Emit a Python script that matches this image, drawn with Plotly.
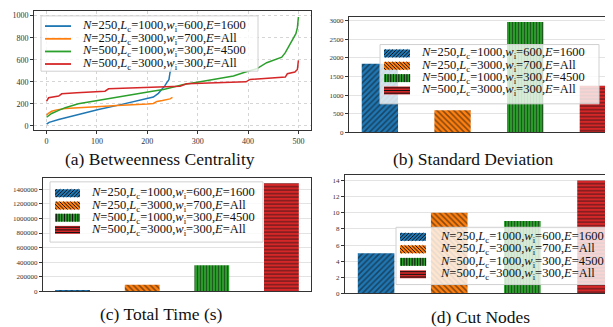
import plotly.graph_objects as go

W, H = 613, 327

# ---------------- data ----------------
series_labels = [
    "<i>N</i>=250,<i>L</i><sub>c</sub>=1000,<i>w</i><sub>i</sub>=600,<i>E</i>=1600",
    "<i>N</i>=250,<i>L</i><sub>c</sub>=3000,<i>w</i><sub>i</sub>=700,<i>E</i>=All",
    "<i>N</i>=500,<i>L</i><sub>c</sub>=1000,<i>w</i><sub>i</sub>=300,<i>E</i>=4500",
    "<i>N</i>=500,<i>L</i><sub>c</sub>=3000,<i>w</i><sub>i</sub>=300,<i>E</i>=All",
]
series_names = ["N=250,Lc=1000,wi=600,E=1600", "N=250,Lc=3000,wi=700,E=All",
                "N=500,Lc=1000,wi=300,E=4500", "N=500,Lc=3000,wi=300,E=All"]

# (a) betweenness centrality (sorted node values)
bc1_x = [0, 5, 24, 50, 83, 103, 143, 172, 183, 200, 212, 222, 229, 235, 239, 243, 245, 247, 249]
bc1_y = [15, 32, 57, 88, 127, 148, 188, 218, 233, 248, 262, 295, 330, 365, 395, 420, 482, 520, 542]
bc2_x = [0, 3, 10, 20, 37, 60, 83, 116, 140, 163, 183, 200, 212, 219, 230, 245, 250]
bc2_y = [95, 112, 132, 145, 157, 162, 165, 179, 185, 188, 194, 198, 203, 222, 230, 245, 258]
bc3_x = [0, 5, 10, 24, 37, 63, 90, 116, 149, 183, 210, 232, 260, 272, 305, 340, 371, 401, 417,
         437, 455, 467, 474, 483, 490, 495, 498, 500]
bc3_y = [78, 98, 112, 140, 165, 200, 222, 239, 264, 294, 315, 330, 360, 376, 400, 425, 452, 497,
         518, 573, 600, 624, 664, 739, 790, 836, 891, 988]
bc4_x = [0, 2, 4, 24, 30, 60, 116, 123, 183, 230, 265, 278, 320, 371, 396, 404, 440, 474, 478,
         493, 498, 500]
bc4_y = [224, 245, 255, 270, 291, 300, 315, 336, 345, 348, 360, 382, 390, 400, 400, 421, 430,
         443, 473, 488, 512, 594]

# (b) standard deviation, (c) total time, (d) cut nodes
bar_positions = [0, 1, 2, 3]
std_dev = [1840, 595, 2960, 1255]
total_time = [22000, 92000, 358000, 1480000]
cut_nodes = [5, 10, 9, 14]

# ---------------- style ----------------
colors = ["#1f77b4", "#ff7f0e", "#2ca02c", "#d62728"]
hatches = ["/", "\\", "|", "-"]
hatch_sizes = [4, 4, 3, 3.5]
SERIF = "Liberation Serif"


def px(x):
    return x / W


def py(y):
    return 1 - y / H


fig = go.Figure()

# ---- (a) lines ----
for xs, ys, c, n in zip([bc1_x, bc2_x, bc3_x, bc4_x], [bc1_y, bc2_y, bc3_y, bc4_y], colors, series_names):
    fig.add_trace(go.Scatter(x=xs, y=ys, mode="lines", name=n, showlegend=False,
                             line=dict(color=c, width=1.5), xaxis="x", yaxis="y"))

# ---- bars ----
for vals, ax in [(std_dev, "2"), (total_time, "3"), (cut_nodes, "4")]:
    for i in range(len(vals)):
        fig.add_trace(go.Bar(
            x=[bar_positions[i]], y=[vals[i]], width=0.5, name=series_names[i], showlegend=False,
            marker=dict(color=colors[i], line=dict(width=0),
                        pattern=dict(shape=hatches[i], size=hatch_sizes[i], solidity=0.4,
                                     fgcolor="#111111")),
            xaxis="x" + ax, yaxis="y" + ax))

tickfont = dict(family=SERIF, size=8, color="#333333")
common = dict(showline=True, mirror=True, linecolor="#333333", linewidth=1, zeroline=False,
              ticks="outside", ticklen=3, tickcolor="#333333", tickfont=tickfont)
common_nt = {k: v for k, v in common.items() if k != "ticks"}
small_font = dict(family=SERIF, size=7, color="#333333")

layout_axes = dict(
    xaxis=dict(domain=[px(26), px(303)], anchor="y", range=[-25, 525], tickvals=[0, 100, 200, 300, 400, 500],
               showgrid=True, gridcolor="#d5d5d5", griddash="dot", gridwidth=0.8, **common),
    yaxis=dict(domain=[py(124), py(3.3)], anchor="x", range=[-42, 1040], tickvals=[0, 200, 400, 600, 800, 1000],
               showgrid=True, gridcolor="#d5d5d5", griddash="dot", gridwidth=0.8, **common),
    xaxis2=dict(domain=[px(341), 0.999], anchor="y2", range=[-0.425, 3.31], showticklabels=False,
                showgrid=False, **common_nt),
    yaxis2=dict(domain=[py(126), py(9)], anchor="x2", range=[0, 3097],
                tickvals=[0, 500, 1000, 1500, 2000, 2500, 3000],
                showgrid=True, gridcolor="#e3e3e3", gridwidth=0.8, **common),
    xaxis3=dict(domain=[px(35), px(303)], anchor="y3", range=[-0.425, 3.425], showticklabels=False,
                showgrid=False, **common_nt),
    yaxis3=dict(domain=[py(287), py(172)], anchor="x3", range=[0, 1554000],
                tickvals=[0, 200000, 400000, 600000, 800000, 1000000, 1200000, 1400000], tickformat="d",
                showgrid=True, gridcolor="#e3e3e3", gridwidth=0.8, **common),
    xaxis4=dict(domain=[px(337), 0.999], anchor="y4", range=[-0.425, 3.34], showticklabels=False,
                showgrid=False, **common_nt),
    yaxis4=dict(domain=[py(289), py(169)], anchor="x4", range=[0, 14.7],
                tickvals=[0, 2, 4, 6, 8, 10, 12, 14],
                showgrid=True, gridcolor="#e3e3e3", gridwidth=0.8, **common),
)
for k in ("yaxis2", "yaxis3", "yaxis4"):
    layout_axes[k]["tickfont"] = small_font

# ---------------- custom legends ----------------
shapes = []
annotations = []


def hatch_path(x0, y0, x1, y1, kind, step):
    segs = []
    if kind == "|":
        x = x0 + step / 2
        while x < x1:
            segs.append(((x, y0), (x, y1)))
            x += step
    elif kind == "-":
        y = y0 + step / 2
        while y < y1:
            segs.append(((x0, y), (x1, y)))
            y += step
    elif kind == "/":
        c = x0 + y0 + step / 2
        while c < x1 + y1:
            xa, xb = max(x0, c - y1), min(x1, c - y0)
            if xa < xb:
                segs.append(((xa, c - xa), (xb, c - xb)))
            c += step
    else:
        c = x0 - y1 + step / 2
        while c < x1 - y0:
            xa, xb = max(x0, c + y0), min(x1, c + y1)
            if xa < xb:
                segs.append(((xa, xa - c), (xb, xb - c)))
            c += step
    return " ".join(f"M{px(a[0]):.5f},{py(a[1]):.5f} L{px(b[0]):.5f},{py(b[1]):.5f}" for a, b in segs)


def legend(box, sw_x, text_x, rows, kind):
    bx0, by0, bx1, by1 = box
    shapes.append(dict(type="rect", xref="paper", yref="paper", layer="above",
                       x0=px(bx0), x1=px(bx1), y0=py(by1), y1=py(by0),
                       fillcolor="rgba(255,255,255,0.8)", line=dict(color="#d0d0d0", width=1)))
    for i, yc in enumerate(rows):
        if kind == "line":
            shapes.append(dict(type="line", xref="paper", yref="paper", layer="above",
                               x0=px(sw_x[0]), x1=px(sw_x[1]), y0=py(yc), y1=py(yc),
                               line=dict(color=colors[i], width=1.8)))
        else:
            shapes.append(dict(type="rect", xref="paper", yref="paper", layer="above",
                               x0=px(sw_x[0]), x1=px(sw_x[1]), y0=py(yc + 4), y1=py(yc - 4),
                               fillcolor=colors[i], line=dict(width=0)))
            step = {"/": 3.6, "\\": 3.6, "|": 2.7, "-": 2.7}[hatches[i]]
            shapes.append(dict(type="path", xref="paper", yref="paper", layer="above",
                               path=hatch_path(sw_x[0], yc - 4, sw_x[1], yc + 4, hatches[i], step),
                               line=dict(color="#111111", width=1)))
        annotations.append(dict(x=px(text_x), y=py(yc), xref="paper", yref="paper", xanchor="left",
                                yanchor="middle", showarrow=False, text=series_labels[i],
                                font=dict(family=SERIF, size=12.5, color="#111111")))


legend((33, 8, 250, 64), (37, 63), 72, [18.3, 31.2, 44.0, 56.7], "line")
legend((372, 37, 591, 97), (376, 402), 411, [46, 58.5, 71, 83.5], "bar")
legend((42, 176, 255, 237), (47, 72), 81, [187.5, 200, 212.3, 224.6], "bar")
legend((388, 222, 609, 280), (392, 418), 430, [231.7, 244.3, 257, 269.6], "bar")

# ---------------- captions ----------------
captions = ["(a) Betweenness Centrality", "(b) Standard Deviation", "(c) Total Time (s)", "(d) Cut Nodes"]
cap_pos = [(152, 153), (465, 153), (153, 310), (472, 313)]
for t, (cx, cy) in zip(captions, cap_pos):
    annotations.append(dict(x=px(cx), y=py(cy), xref="paper", yref="paper", xanchor="center",
                            yanchor="middle", showarrow=False, text=t,
                            font=dict(family=SERIF, size=17.5, color="#111111")))

fig.update_layout(
    width=W, height=H, margin=dict(l=0, r=0, t=0, b=0),
    paper_bgcolor="white", plot_bgcolor="white", barmode="overlay",
    showlegend=False, shapes=shapes, annotations=annotations, **layout_axes)

fig.write_html("out.html")
